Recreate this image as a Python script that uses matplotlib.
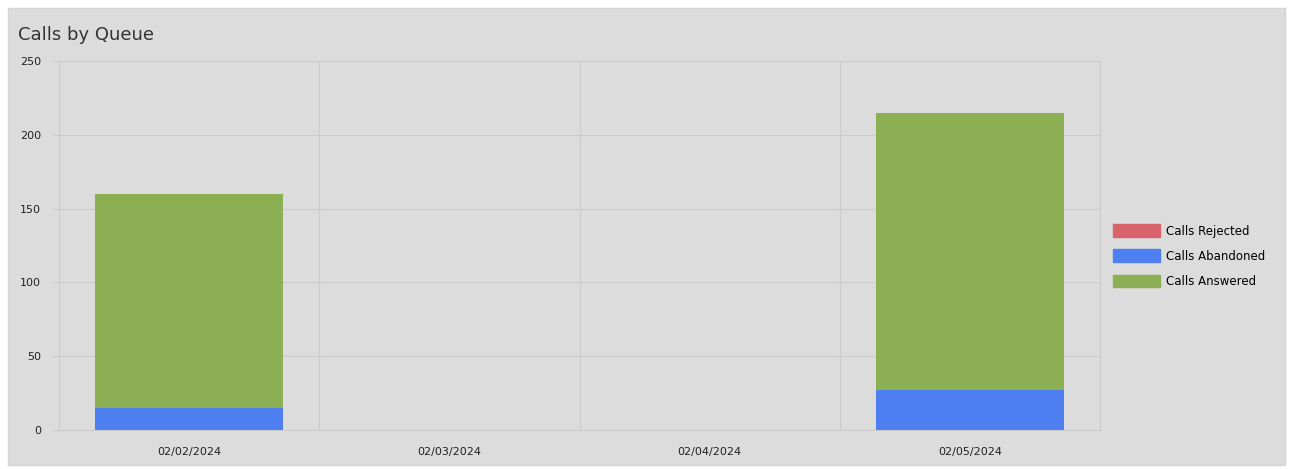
import numpy as np
import matplotlib.pyplot as plt
from matplotlib.patches import Rectangle

# data
dates = ["02/02/2024", "02/03/2024", "02/04/2024", "02/05/2024"]
rejected = [0, 0, 0, 0]
abandoned = [15, 0, 0, 27]
answered = [145, 0, 0, 188]

bg = "#dcdcdc"
grid_col = "#cbcbcb"
col_rej = "#d9636b"
col_aban = "#4d7ff0"
col_ans = "#8caf53"

fig = plt.figure(figsize=(12.93, 4.69), dpi=100)
fig.patch.set_facecolor("white")
fig.patches.append(Rectangle((8 / 1293, 4 / 469), 1277 / 1293, 457 / 469,
                             transform=fig.transFigure, facecolor=bg,
                             edgecolor="#d4d4d4", zorder=-10))

ax = fig.add_axes([59 / 1293, 1 - 430 / 469, 1041 / 1293, 369 / 469])
ax.set_zorder(1)
ax.set_facecolor(bg)

x = np.arange(len(dates))
w = 0.72
ab = np.array(abandoned)
an = np.array(answered)
ax.bar(x, abandoned, w, color=col_aban, zorder=3)
ax.bar(x, answered, w, bottom=ab, color=col_ans, zorder=3)
ax.bar(x, rejected, w, bottom=ab + an, color=col_rej, zorder=3)

ax.set_xlim(-0.5, len(dates) - 0.5)
ax.set_ylim(0, 250)
ax.set_yticks(range(0, 251, 50))
ax.set_xticks(x)
ax.set_xticklabels(dates)
for xv in np.arange(-0.5, len(dates), 1.0):
    ax.axvline(xv, color=grid_col, lw=0.8, zorder=1)
ax.yaxis.grid(True, color=grid_col, lw=0.8, zorder=1)
for s in ax.spines.values():
    s.set_color(grid_col)
    s.set_linewidth(0.8)
ax.tick_params(axis="y", length=4, color=grid_col, labelsize=8, labelcolor="#222222", pad=9)
ax.tick_params(axis="x", length=0, labelsize=8, labelcolor="#222222", pad=12)

fig.text(18 / 1293, 1 - 35 / 469, "Calls by Queue", fontsize=13, color="#333333", va="center")

handles = [Rectangle((0, 0), 1, 1, color=c) for c in (col_rej, col_aban, col_ans)]
fig.legend(handles, ["Calls Rejected", "Calls Abandoned", "Calls Answered"],
           loc="center left", bbox_to_anchor=(1102 / 1293, 1 - 256 / 469),
           frameon=False, fontsize=8.5, handlelength=4.0, handleheight=1.3,
           labelspacing=1.0, handletextpad=0.5)

fig.savefig("out.png", dpi=100, facecolor="white")
